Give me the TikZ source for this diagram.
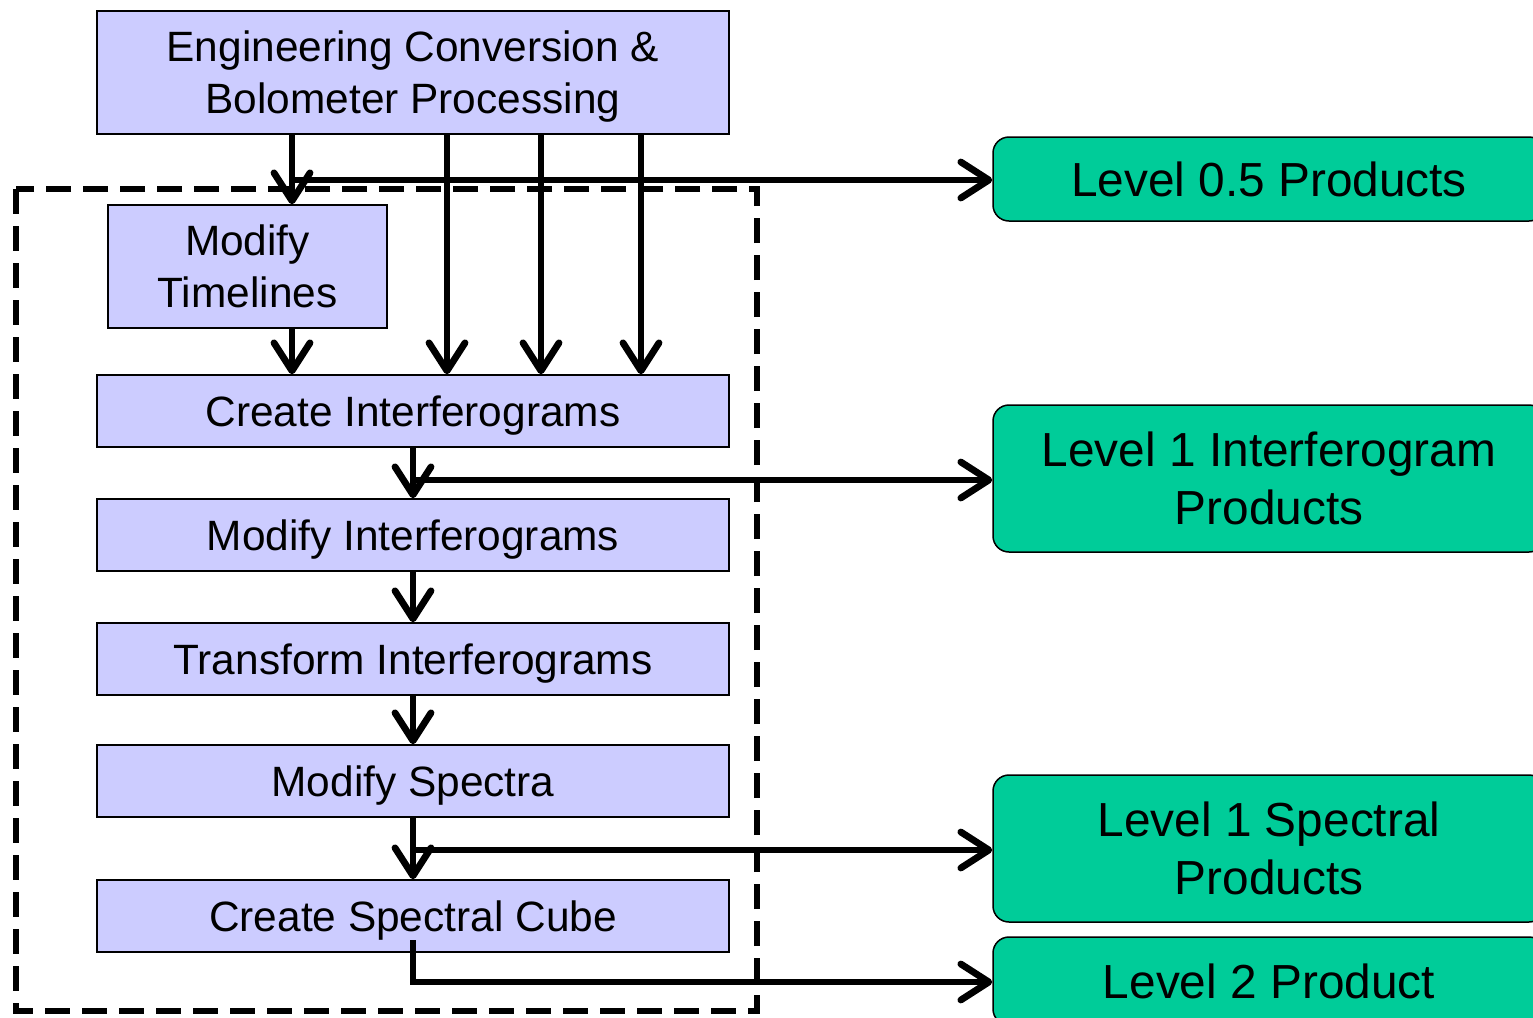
\documentclass[tikz,border=0pt]{standalone}
\usepackage{fontspec}
\setmainfont{Liberation Sans}
\usetikzlibrary{arrows.meta}
\definecolor{boxblue}{HTML}{CCCCFF}
\definecolor{boxgreen}{HTML}{00CC99}
\tikzset{
  procbox/.style={draw=black, line width=0.75pt, fill=boxblue, inner sep=0pt,
    minimum width=316pt, minimum height=36pt, align=center, text depth=0pt,
    font=\fontsize{21.2pt}{26pt}\selectfont},
  prodbox/.style={draw=black, line width=0.75pt, fill=boxgreen, inner sep=0pt,
    rounded corners=8pt, minimum width=276pt, align=center,
    font=\fontsize{23.9pt}{29pt}\selectfont},
  arr/.style={line width=3.4pt, -{Straight Barb[length=14pt,width=18pt,round]}},
  groupbox/.style={draw=black, line width=3.4pt, dash pattern=on 12.5pt off 6pt}
}
\begin{document}
\begin{tikzpicture}[x=0.5pt,y=-0.5pt]
\useasboundingbox (0,0) rectangle (1533,1018);
\clip (0,0) rectangle (1533,1018);
% dashed group
\draw[groupbox] (16,189) rectangle (757,1011);
% process boxes
\node[procbox, minimum height=61.5pt] (top) at (413,72.5) {Engineering Conversion \&\\Bolometer Processing};
\node[procbox, minimum width=139.5pt, minimum height=61.5pt] (mt) at (247.5,266.5) {Modify\\Timelines};
\node[procbox] (ci) at (413,411) {Create Interferograms};
\node[procbox] (mi) at (413,535) {Modify Interferograms};
\node[procbox] (ti) at (413,659) {Transform Interferograms};
\node[procbox] (ms) at (413,781) {Modify Spectra};
\node[procbox] (csc) at (413,916) {Create Spectral Cube};
% product boxes
\node[prodbox, minimum height=42pt] (l05) at (1269,179) {Level 0.5 Products};
\node[prodbox, minimum height=73.5pt] (l1i) at (1269,478.5) {Level 1 Interferogram\\Products};
\node[prodbox, minimum height=73.5pt] (l1s) at (1269,848.5) {Level 1 Spectral\\Products};
\node[prodbox, minimum height=44pt] (l2) at (1269,981) {Level 2 Product};
% helper coordinates
\coordinate (xm) at (292,0);
\coordinate (xa) at (447,0);
\coordinate (xb) at (541,0);
\coordinate (xc) at (641,0);
\coordinate (j05) at (292,180);
\coordinate (j1i) at (413,480);
\coordinate (j1s) at (413,850);
\coordinate (cstart) at (413,940);
\coordinate (ccorner) at (413,982);
% connectors
\draw[arr] (top.south -| xm) -- (mt.north -| xm);
\draw[arr] (j05) -- (j05 -| l05.west);
\draw[arr] (top.south -| xa) -- (ci.north -| xa);
\draw[arr] (top.south -| xb) -- (ci.north -| xb);
\draw[arr] (top.south -| xc) -- (ci.north -| xc);
\draw[arr] (mt.south -| xm) -- (ci.north -| xm);
\draw[arr] (ci.south) -- (mi.north);
\draw[arr] (j1i) -- (j1i -| l1i.west);
\draw[arr] (mi.south) -- (ti.north);
\draw[arr] (ti.south) -- (ms.north);
\draw[arr] (ms.south) -- (csc.north);
\draw[arr] (j1s) -- (j1s -| l1s.west);
\draw[arr] (cstart) -- (ccorner) -- (ccorner -| l2.west);
\end{tikzpicture}
\end{document}
